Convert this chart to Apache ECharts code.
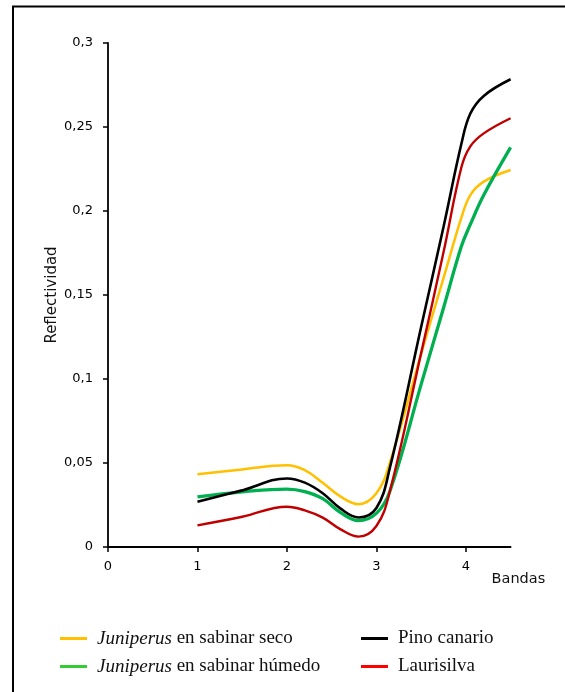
<!DOCTYPE html>
<html>
<head>
<meta charset="utf-8">
<script src="https://cdn.jsdelivr.net/npm/echarts@6/dist/echarts.min.js"></script>
<style>
  html, body { margin: 0; padding: 0; background: #fff; }
  #chart { width: 565px; height: 692px; }
</style>
</head>
<body>
<div id="chart"></div>
<script>
var bandas = [1, 1.5, 2, 2.2, 2.4, 2.6, 2.8, 3, 3.15, 3.5, 3.75, 3.95, 4.05, 4.2, 4.5];

// Reflectance values
var juniperusSeco   = [0.0433, 0.0462, 0.0487, 0.0458, 0.0382, 0.0300, 0.0255, 0.0320, 0.0500, 0.1150, 0.1600, 0.1960, 0.2095, 0.2175, 0.2244];
var juniperusHumedo = [0.0298, 0.0328, 0.0345, 0.0330, 0.0288, 0.0205, 0.0157, 0.0200, 0.0330, 0.0968, 0.1423, 0.1790, 0.1920, 0.2095, 0.2379];
var pinoCanario     = [0.0270, 0.0337, 0.0408, 0.0383, 0.0320, 0.0228, 0.0176, 0.0232, 0.0470, 0.1310, 0.1905, 0.2400, 0.2580, 0.2685, 0.2784];
var laurisilva      = [0.0129, 0.0180, 0.0240, 0.0218, 0.0175, 0.0105, 0.0062, 0.0125, 0.0330, 0.1154, 0.1754, 0.2260, 0.2385, 0.2462, 0.2552];

var xTicks = [0, 1, 2, 3, 4];
var seriesNames = ['Juniperus en sabinar seco', 'Juniperus en sabinar húmedo', 'Pino canario', 'Laurisilva'];

function pairs(ys) {
  return bandas.map(function (x, i) { return [x, ys[i]]; });
}

function legendFormatter(name) {
  if (name.indexOf('Juniperus') === 0) {
    return '{i|Juniperus}' + name.slice('Juniperus'.length);
  }
  return name;
}

var legendText = {
  fontFamily: 'Liberation Serif',
  fontSize: 19,
  color: '#111',
  padding: [0, 0, 0, 5],
  rich: {
    i: { fontFamily: 'Liberation Serif', fontStyle: 'italic', fontSize: 19, color: '#111' }
  }
};

var chart = echarts.init(document.getElementById('chart'), null, { renderer: 'canvas' });

chart.setOption({
  animation: false,
  backgroundColor: '#fff',
  graphic: [{
    type: 'rect',
    shape: { x: 13, y: 6.5, width: 620, height: 720 },
    style: { fill: 'none', stroke: '#000', lineWidth: 2 },
    silent: true
  }],
  grid: { left: 108, right: 54.4, top: 43, bottom: 145, containLabel: false },
  xAxis: {
    type: 'value',
    min: 0,
    max: 4.5,
    interval: 1,
    name: 'Bandas',
    nameLocation: 'end',
    nameGap: -19,
    nameMoveOverlap: false,
    nameTextStyle: {
      fontFamily: 'DejaVu Sans', fontSize: 14.5, color: '#111',
      align: 'left', verticalAlign: 'top', padding: [25, 0, 0, 0]
    },
    axisLine: { lineStyle: { color: '#000', width: 1.8 } },
    axisTick: { show: true, length: 5, lineStyle: { color: '#000', width: 1.5 }, customValues: xTicks },
    axisLabel: {
      customValues: xTicks,
      margin: 13,
      fontFamily: 'DejaVu Sans', fontSize: 13, color: '#000'
    },
    splitLine: { show: false }
  },
  yAxis: {
    type: 'value',
    min: 0,
    max: 0.3,
    interval: 0.05,
    name: 'Reflectividad',
    nameLocation: 'middle',
    nameGap: 48,
    nameRotate: 90,
    nameMoveOverlap: false,
    nameTextStyle: { fontFamily: 'DejaVu Sans', fontSize: 15, color: '#111' },
    axisLine: { show: true, lineStyle: { color: '#000', width: 1.8 } },
    axisTick: { show: true, length: 5, lineStyle: { color: '#000', width: 1.5 } },
    axisLabel: {
      margin: 15,
      fontFamily: 'DejaVu Sans', fontSize: 13, color: '#000',
      formatter: function (v) { return String(Number(v.toFixed(2))).replace('.', ','); }
    },
    splitLine: { show: false }
  },
  legend: [{
    orient: 'vertical',
    left: 60,
    top: 629,
    padding: 0,
    itemWidth: 27,
    itemHeight: 14,
    itemGap: 9,
    icon: 'path://M0,6 L27,6 L27,9 L0,9 Z',
    textStyle: legendText,
    formatter: legendFormatter,
    data: [
      { name: seriesNames[0], itemStyle: { color: '#FFC000' } },
      { name: seriesNames[1], itemStyle: { color: '#33CC33' } }
    ]
  }, {
    orient: 'vertical',
    left: 361,
    top: 629,
    padding: 0,
    itemWidth: 27,
    itemHeight: 14,
    itemGap: 9,
    icon: 'path://M0,6 L27,6 L27,9 L0,9 Z',
    textStyle: legendText,
    formatter: legendFormatter,
    data: [
      { name: seriesNames[2], itemStyle: { color: '#000000' } },
      { name: seriesNames[3], itemStyle: { color: '#FF0000' } }
    ]
  }],
  series: [{
    name: seriesNames[0], type: 'line', smooth: 0.4, symbol: 'none',
    data: pairs(juniperusSeco),
    itemStyle: { color: '#FFC000' },
    lineStyle: { color: '#FFC000', width: 2.5 }
  }, {
    name: seriesNames[1], type: 'line', smooth: 0.4, symbol: 'none',
    data: pairs(juniperusHumedo),
    itemStyle: { color: '#00B050' },
    lineStyle: { color: '#00B050', width: 3.3 }
  }, {
    name: seriesNames[2], type: 'line', smooth: 0.4, symbol: 'none',
    data: pairs(pinoCanario),
    itemStyle: { color: '#000000' },
    lineStyle: { color: '#000000', width: 2.6 }
  }, {
    name: seriesNames[3], type: 'line', smooth: 0.4, symbol: 'none',
    data: pairs(laurisilva),
    itemStyle: { color: '#C00000' },
    lineStyle: { color: '#C00000', width: 2.4 }
  }]
});
</script>
</body>
</html>
